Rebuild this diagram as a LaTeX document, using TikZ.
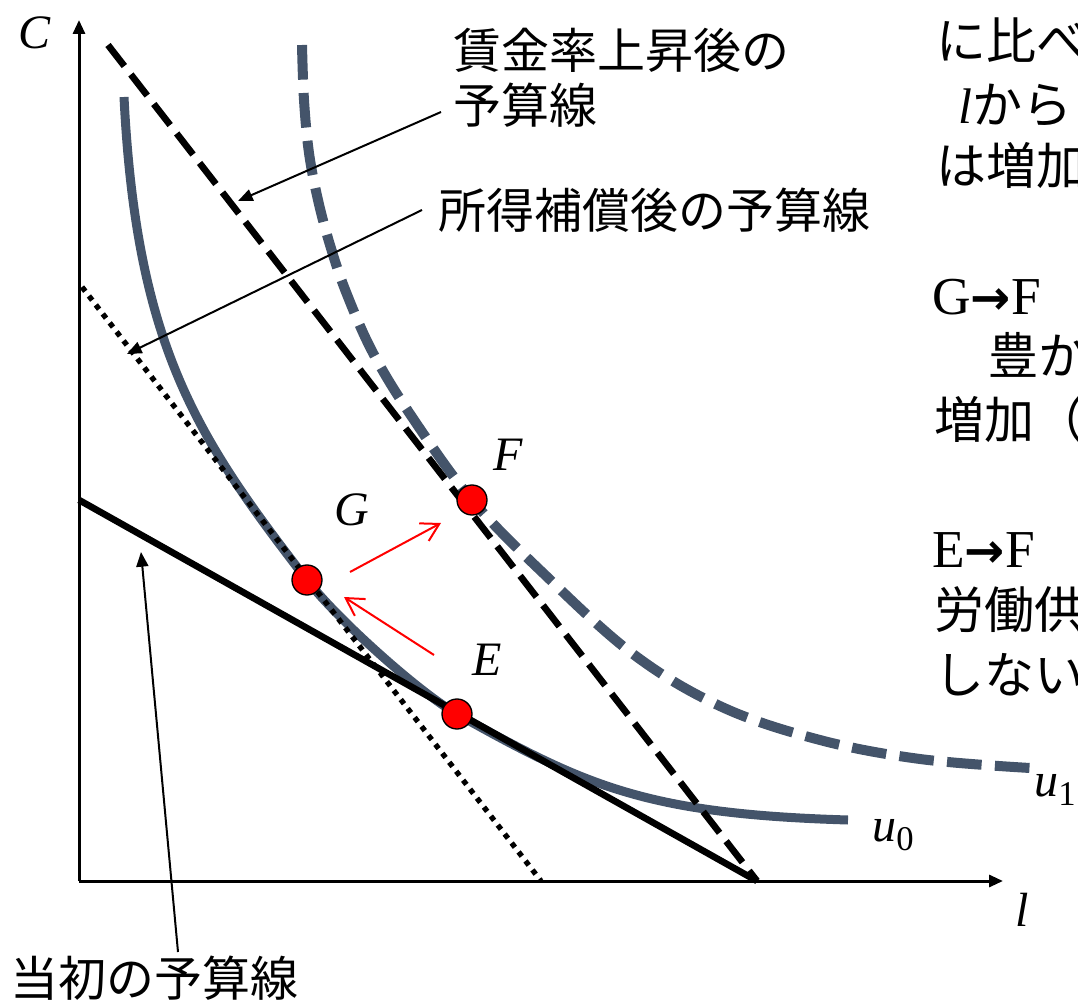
\documentclass[tikz,border=0pt]{standalone}
\usepackage{fontspec}
\setmainfont{Liberation Serif}
\newfontfamily\jp{Noto Sans CJK JP}
\newfontfamily\dvs{DejaVu Sans}
\usetikzlibrary{arrows.meta}
\definecolor{slate}{HTML}{44546A}
\definecolor{pred}{HTML}{FF0000}
\tikzset{
  axisline/.style={line width=2.25pt, -{Triangle[length=10.5pt,width=9pt]}},
  origline/.style={line width=5pt},
  wageline/.style={line width=5pt, dash pattern=on 20pt off 8pt},
  compline/.style={line width=4pt, dash pattern=on 4pt off 4.5pt},
  ucurve/.style={line width=6.75pt, slate},
  ucurvedash/.style={line width=7.5pt, slate, dash pattern=on 26pt off 10pt},
  eqpt/.style={circle, fill=pred, draw=black, line width=1pt, minimum size=22.5pt, inner sep=0pt},
  redarrow/.style={pred, line width=1.5pt, -{Straight Barb[length=13pt,width=15pt,line width=1.5pt]}},
  notearrow/.style={black, line width=1.5pt, -{Triangle[length=11pt,width=9pt]}},
  jptext/.style={inner sep=0pt, anchor=west, font=\jp\fontsize{36}{42}\selectfont},
  jpright/.style={inner sep=0pt, anchor=west, font=\jp\fontsize{37.5}{42}\selectfont},
  lattext/.style={inner sep=0pt, font=\fontsize{40}{46}\selectfont},
  lab/.style={inner sep=0pt, font=\itshape\fontsize{36}{42}\selectfont},
}
\begin{document}
\begin{tikzpicture}[x=0.75pt, y=-0.75pt]
\useasboundingbox (0,0) rectangle (1078,1005);
\clip (0,0) rectangle (1078,1005);
% axes
\coordinate (O) at (79,881);
\coordinate (Ytop) at (79,20);
\coordinate (Xend) at (1003,881);
\draw[axisline] (O) -- (Ytop);
\draw[axisline] (O) -- (Xend);
\node[lab] (Clab) at (35,33) {C};
\node[lab] (llab) at (1022,910) {l};
% points on the curves
\coordinate (u0top) at (124,97);
\coordinate (u0end) at (848,820);
\coordinate (Gc) at (307,580);
\coordinate (Ec) at (457,714);
\coordinate (Fc) at (472,500);
% indifference curve u0 (tangent to the budget lines at G and E)
\draw[ucurve] (u0top) .. controls (136.5,347) and (197,437.7) .. (Gc)
  .. controls (337.6,619.6) and (420.1,693.3) .. (Ec)
  .. controls (587,787) and (648,814) .. (u0end);
% indifference curve u1
\draw[ucurvedash] plot[smooth, tension=0.6] coordinates {(302,45) (304,100) (309,153) (318,200) (330,245) (346,292) (373,353) (412,417) (472,500) (542,572) (633,654) (722,707) (820,740) (920,759) (1030,768)};
% budget lines
\coordinate (A0) at (79,500);
\coordinate (B0) at (757,881);
\coordinate (A1) at (108,45);
\coordinate (A2) at (82,287);
\coordinate (B2) at (541,881);
\draw[origline] (A0) -- (B0);
\draw[wageline] (A1) -- (B0);
\draw[compline] (A2) -- (B2);
% points
\node[eqpt] (G) at (Gc) {};
\node[eqpt] (F) at (Fc) {};
\node[eqpt] (E) at (Ec) {};
\node[lab] (Flab) at (508,455) {F};
\node[lab] (Glab) at (352,510) {G};
\node[lab] (Elab) at (487,660) {E};
\node[lab] (u0lab) at (893,835) {u{\fontsize{26}{26}\selectfont\raisebox{-7pt}{\upshape 0}}};
\node[lab] (u1lab) at (1055,790) {u{\fontsize{26}{26}\selectfont\raisebox{-7pt}{\upshape 1}}};
% red arrows
\coordinate (r1s) at (350,572);
\coordinate (r1e) at (441,523);
\coordinate (r2s) at (434,655);
\coordinate (r2e) at (344,597);
\draw[redarrow] (r1s) -- (r1e);
\draw[redarrow] (r2s) -- (r2e);
% labels with pointers
\node[jptext] (wl1) at (453,50) {賃金率上昇後の};
\node[jptext] (wl2) at (453,105) {予算線};
\node[jptext] (cl) at (438,210) {所得補償後の予算線};
\node[jptext] (ol) at (10,978) {当初の予算線};
\coordinate (p1s) at (441,112);
\coordinate (p1e) at (238,201);
\coordinate (p2s) at (422,210);
\coordinate (p2e) at (127,354);
\coordinate (p3s) at (178,952);
\coordinate (p3e) at (141,552);
\draw[notearrow] (p1s) -- (p1e);
\draw[notearrow] (p2s) -- (p2e);
\draw[notearrow] (p3s) -- (p3e);
% right-hand explanatory text (cut off by the page edge)
\node[jpright] (t1) at (936,40) {に比べ};
\node[jpright] (t2) at (958,105) {{\itshape\rmfamily\fontsize{37.5}{42}\selectfont l}から};
\node[jpright] (t3) at (936,165) {は増加};
\node[lattext, anchor=west] (t4) at (932,297) {G{\dvs\bfseries\fontsize{36}{40}\selectfont →}F};
\node[jpright] (t5) at (938,355) {　豊か};
\node[jpright] (t6) at (934,420) {増加（};
\node[lattext, anchor=west] (t7) at (932,550) {E{\dvs\bfseries\fontsize{36}{40}\selectfont →}F};
\node[jpright] (t8) at (934,610) {労働供};
\node[jpright] (t9) at (934,675) {しない};
\end{tikzpicture}
\end{document}
